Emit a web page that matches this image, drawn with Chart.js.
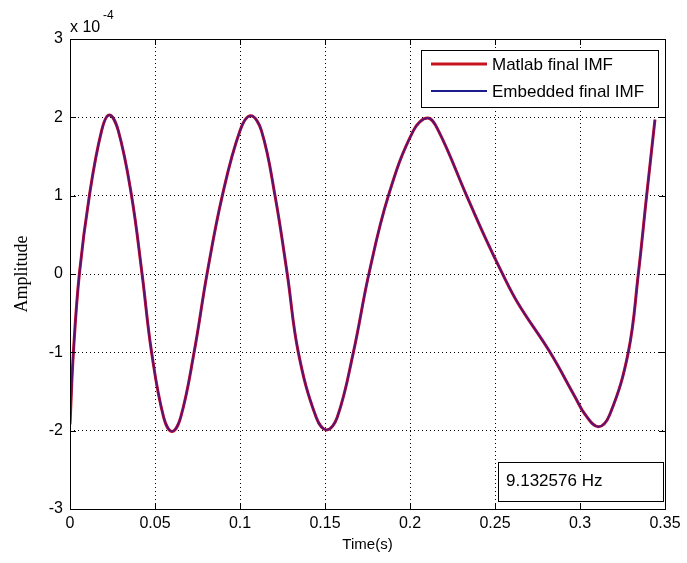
<!DOCTYPE html>
<html lang="en">
<head>
  <meta charset="UTF-8">
  <title>Final IMF</title>
  <style>
    body { margin: 0; background: #fff; }
    #imfChart { display: block; }
  </style>
</head>
<body>
<canvas id="imfChart" width="687" height="563"></canvas>

<script src="https://cdn.jsdelivr.net/npm/chart.js"></script>
<script>
  // values (amplitude in units of 1e-4)
  const timeS = [0.0000, 0.0020, 0.0055, 0.0114, 0.0186, 0.0231, 0.0284, 0.0362, 0.0424, 0.0480,
                 0.0551, 0.0600, 0.0651, 0.0730, 0.0806, 0.0896, 0.1000, 0.1063, 0.1126, 0.1206,
                 0.1278, 0.1343, 0.1448, 0.1510, 0.1572, 0.1667, 0.1758, 0.1873, 0.2020, 0.2104,
                 0.2167, 0.2333, 0.2441, 0.2540, 0.2637, 0.2824, 0.2971, 0.3029, 0.3108, 0.3176,
                 0.3284, 0.3343, 0.3392, 0.3441];
  const matlabImf = [-1.92, -1.00, 0.00, 1.00, 1.83, 2.03, 1.83, 1.00, 0.00, -1.00,
                     -1.83, -2.01, -1.83, -1.00, 0.00, 1.00, 1.83, 2.02, 1.83, 1.00,
                     0.00, -1.00, -1.83, -1.99, -1.83, -1.00, 0.00, 1.00, 1.83, 1.99,
                     1.83, 1.00, 0.47, 0.02, -0.38, -1.00, -1.57, -1.79, -1.95, -1.79,
                     -1.00, 0.00, 1.00, 1.97];
  // the embedded result lies right on top of the matlab one
  const embeddedImf = [-1.92, -1.00, 0.00, 1.00, 1.83, 2.03, 1.83, 1.00, 0.00, -1.00,
                       -1.83, -2.01, -1.83, -1.00, 0.00, 1.00, 1.83, 2.02, 1.83, 1.00,
                       0.00, -1.00, -1.83, -1.99, -1.83, -1.00, 0.00, 1.00, 1.83, 1.99,
                       1.83, 1.00, 0.47, 0.02, -0.38, -1.00, -1.57, -1.79, -1.95, -1.79,
                       -1.00, 0.00, 1.00, 1.97];
  const xTickLabels = ['0', '0.05', '0.1', '0.15', '0.2', '0.25', '0.3', '0.35'];
  const yTickLabels = ['-3', '-2', '-1', '0', '1', '2', '3'];
  const seriesNames = ['Matlab final IMF', 'Embedded final IMF'];
  const freqText = '9.132576 Hz';

  const sans = "'Liberation Sans', Arial, sans-serif";

  // matlab-style box, inward ticks, exponent, legend and text box
  const matlabDecor = {
    id: 'matlabDecor',
    afterDraw(chart) {
      const ctx = chart.ctx;
      const a = chart.chartArea;
      const xs = chart.scales.x, ys = chart.scales.y;
      ctx.save();
      ctx.strokeStyle = '#000';
      ctx.lineWidth = 1;
      ctx.setLineDash([]);
      ctx.strokeRect(a.left + 0.5, a.top + 0.5, a.right - a.left, a.bottom - a.top);
      ctx.beginPath();
      xs.ticks.forEach(t => {
        const px = Math.round(xs.getPixelForValue(t.value)) + 0.5;
        ctx.moveTo(px, a.bottom); ctx.lineTo(px, a.bottom - 6);
        ctx.moveTo(px, a.top); ctx.lineTo(px, a.top + 6);
      });
      ys.ticks.forEach(t => {
        const py = Math.round(ys.getPixelForValue(t.value)) + 0.5;
        ctx.moveTo(a.left, py); ctx.lineTo(a.left + 6, py);
        ctx.moveTo(a.right, py); ctx.lineTo(a.right - 6, py);
      });
      ctx.stroke();

      // exponent
      ctx.fillStyle = '#000';
      ctx.textBaseline = 'alphabetic';
      ctx.textAlign = 'left';
      ctx.font = '16px ' + sans;
      ctx.fillText('x 10', 70, 32);
      ctx.font = '12px ' + sans;
      ctx.fillText('-4', 103, 19);

      // legend
      const lx = 421, ly = 50, lw = 237, lh = 57;
      ctx.fillStyle = '#fff';
      ctx.fillRect(lx, ly, lw, lh);
      ctx.strokeRect(lx + 0.5, ly + 0.5, lw, lh);
      chart.data.datasets.forEach((ds, i) => {
        const rowY = ly + 14 + i * 27;
        ctx.strokeStyle = ds.legendColor;
        ctx.lineWidth = ds.borderWidth;
        ctx.beginPath();
        ctx.moveTo(431, rowY); ctx.lineTo(487, rowY);
        ctx.stroke();
        ctx.fillStyle = '#000';
        ctx.font = '17px ' + sans;
        ctx.textBaseline = 'middle';
        ctx.fillText(ds.label, 492, rowY + 1);
      });

      // frequency box
      ctx.strokeStyle = '#000';
      ctx.lineWidth = 1;
      ctx.fillStyle = '#fff';
      ctx.fillRect(498, 462, 165, 39);
      ctx.strokeRect(498.5, 462.5, 165, 39);
      ctx.fillStyle = '#000';
      ctx.font = '17px ' + sans;
      ctx.textBaseline = 'middle';
      ctx.fillText(freqText, 506, 481);
      ctx.restore();
    }
  };

  const ctx = document.getElementById('imfChart').getContext('2d');
  new Chart(ctx, {
    type: 'line',
    data: {
      labels: timeS,
      datasets: [{
        label: seriesNames[0],
        data: timeS.map((t, i) => ({ x: t, y: matlabImf[i] })),
        borderColor: '#d81020',
        legendColor: '#c8141e',
        borderWidth: 3,
        pointRadius: 0,
        tension: 0.4,
        order: 2
      }, {
        label: seriesNames[1],
        data: timeS.map((t, i) => ({ x: t, y: embeddedImf[i] })),
        borderColor: 'rgba(40, 20, 150, 0.7)',
        legendColor: '#1c1c8c',
        borderWidth: 2,
        pointRadius: 0,
        tension: 0.4,
        order: 1
      }]
    },
    options: {
      responsive: false,
      animation: false,
      layout: { padding: { top: 39, right: 22, left: 0, bottom: 0 } },
      plugins: {
        legend: { display: false },
        tooltip: { enabled: false }
      },
      scales: {
        x: {
          type: 'linear',
          min: 0,
          max: 0.35,
          afterBuildTicks: s => { s.ticks = xTickLabels.map(v => ({ value: parseFloat(v) })); },
          afterFit: s => { s.height = 54; },
          ticks: {
            callback: (v, i) => xTickLabels[i],
            color: '#000',
            font: { family: sans, size: 16 },
            padding: 5,
            maxRotation: 0,
            autoSkip: false
          },
          grid: { color: '#000', drawTicks: false, lineWidth: 1 },
          border: { display: false, dash: [1, 3] },
          title: {
            display: true,
            text: 'Time(s)',
            color: '#000',
            font: { family: sans, size: 15 },
            padding: { top: 0, bottom: 9 }
          }
        },
        y: {
          min: -3,
          max: 3,
          afterBuildTicks: s => { s.ticks = yTickLabels.map(v => ({ value: parseFloat(v) })); },
          afterFit: s => { s.width = 70; },
          ticks: {
            callback: (v, i) => yTickLabels[i],
            color: '#000',
            font: { family: sans, size: 16 },
            padding: 7
          },
          grid: { color: '#000', drawTicks: false, lineWidth: 1 },
          border: { display: false, dash: [1, 3] },
          title: {
            display: true,
            text: 'Amplitude',
            color: '#000',
            font: { family: "'Liberation Serif', 'Times New Roman', serif", size: 18 },
            padding: { top: 11, bottom: 0 }
          }
        }
      }
    },
    plugins: [matlabDecor]
  });
</script>
</body>
</html>
